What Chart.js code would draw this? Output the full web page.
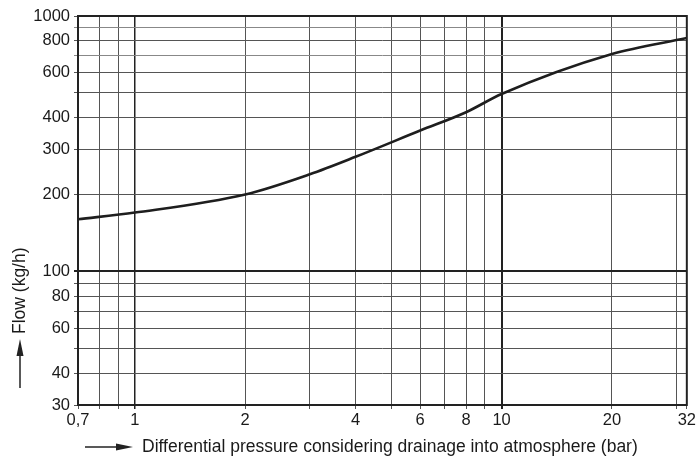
<!DOCTYPE html>
<html>
<head>
<meta charset="utf-8">
<script src="https://cdn.jsdelivr.net/npm/chart.js@4/dist/chart.umd.min.js"></script>
<style>
  html, body { margin: 0; padding: 0; background: #fff; }
  #wrap { width: 698px; height: 464px; }
</style>
</head>
<body>
<div id="wrap"><canvas id="myChart"></canvas></div>
<script>
// values (log-log)
const pressure = [0.7, 1, 2, 3, 4, 6, 8, 10, 20, 32];
const flow = [160, 170, 200, 240, 281, 356, 420, 495, 710, 820];

const xGrid = [0.7, 0.8, 0.9, 1, 2, 3, 4, 5, 6, 7, 8, 9, 10, 20, 30, 32];
const xLabels = [0.7, 1, 2, 4, 6, 8, 10, 20, 32];
const yGrid = [30, 40, 50, 60, 70, 80, 90, 100, 200, 300, 400, 500, 600, 700, 800, 900, 1000];
const yLabels = [30, 40, 60, 80, 100, 200, 300, 400, 600, 800, 1000];

const FONT = '"Liberation Sans", Arial, sans-serif';

const ctx = document.querySelector('#myChart').getContext('2d');

// box round the plot, arrows and axis titles
const frame = {
  id: 'frame',
  afterDraw(chart) {
    const { ctx, chartArea: a } = chart;
    ctx.save();
    ctx.strokeStyle = '#222';
    ctx.lineWidth = 2;
    ctx.strokeRect(a.left, a.top, a.right - a.left, a.bottom - a.top);

    ctx.fillStyle = '#222';
    ctx.lineWidth = 1.5;
    // x arrow
    ctx.beginPath();
    ctx.moveTo(85, 447);
    ctx.lineTo(120, 447);
    ctx.stroke();
    ctx.beginPath();
    ctx.moveTo(133, 447);
    ctx.lineTo(116, 443.5);
    ctx.lineTo(116, 450.5);
    ctx.closePath();
    ctx.fill();
    // y arrow
    ctx.beginPath();
    ctx.moveTo(20, 388);
    ctx.lineTo(20, 352);
    ctx.stroke();
    ctx.beginPath();
    ctx.moveTo(20, 339);
    ctx.lineTo(16.5, 356);
    ctx.lineTo(23.5, 356);
    ctx.closePath();
    ctx.fill();

    ctx.font = '17.5px ' + FONT;
    ctx.fillStyle = '#1a1a1a';
    ctx.textBaseline = 'middle';
    ctx.textAlign = 'left';
    ctx.fillText('Differential pressure considering drainage into atmosphere (bar)', 142, 447);
    ctx.translate(20, 334);
    ctx.rotate(-Math.PI / 2);
    ctx.fillText('Flow (kg/h)', 0, 0);
    ctx.restore();
  },
};

const config = {
  type: 'line',
  data: {
    datasets: [
      {
        data: pressure.map((p, i) => ({ x: p, y: flow[i] })),
        borderColor: '#1e1e1e',
        borderWidth: 2.6,
        pointRadius: 0,
        fill: false,
        cubicInterpolationMode: 'monotone',
      },
    ],
  },
  options: {
    responsive: true,
    maintainAspectRatio: false,
    animation: false,
    layout: { padding: { top: 16, right: 11, left: 0, bottom: 0 } },
    plugins: { legend: { display: false }, tooltip: { enabled: false } },
    scales: {
      x: {
        type: 'logarithmic',
        min: 0.7,
        max: 32,
        afterBuildTicks: (s) => { s.ticks = xGrid.map((v) => ({ value: v })); },
        afterFit: (s) => { s.height = 59; },
        border: { display: false },
        grid: {
          tickLength: 4,
          color: (c) => (c.tick && [1, 10].includes(c.tick.value) ? '#222' : '#555'),
          lineWidth: (c) => (c.tick && c.tick.value === 10 ? 2 : c.tick && c.tick.value === 1 ? 1.5 : 1),
        },
        ticks: {
          autoSkip: false,
          maxRotation: 0,
          padding: 2,
          color: '#1a1a1a',
          font: { family: FONT, size: 16.5 },
          callback: (v) => (xLabels.includes(v) ? String(v).replace('.', ',') : ''),
        },
      },
      y: {
        type: 'logarithmic',
        min: 30,
        max: 1000,
        afterBuildTicks: (s) => { s.ticks = yGrid.map((v) => ({ value: v })); },
        afterFit: (s) => { s.width = 78; },
        border: { display: false },
        grid: {
          tickLength: 4,
          color: (c) => {
            const v = c.tick && c.tick.value;
            if (v === 100) return '#222';
            if (v === 700 || v === 900) return '#888';
            return '#555';
          },
          lineWidth: (c) => (c.tick && c.tick.value === 100 ? 2 : 1),
        },
        ticks: {
          autoSkip: false,
          padding: 4,
          color: '#1a1a1a',
          font: { family: FONT, size: 16.5 },
          callback: (v) => (yLabels.includes(v) ? String(v) : ''),
        },
      },
    },
  },
  plugins: [frame],
};

const myChart = new Chart(ctx, config);
</script>
</body>
</html>
